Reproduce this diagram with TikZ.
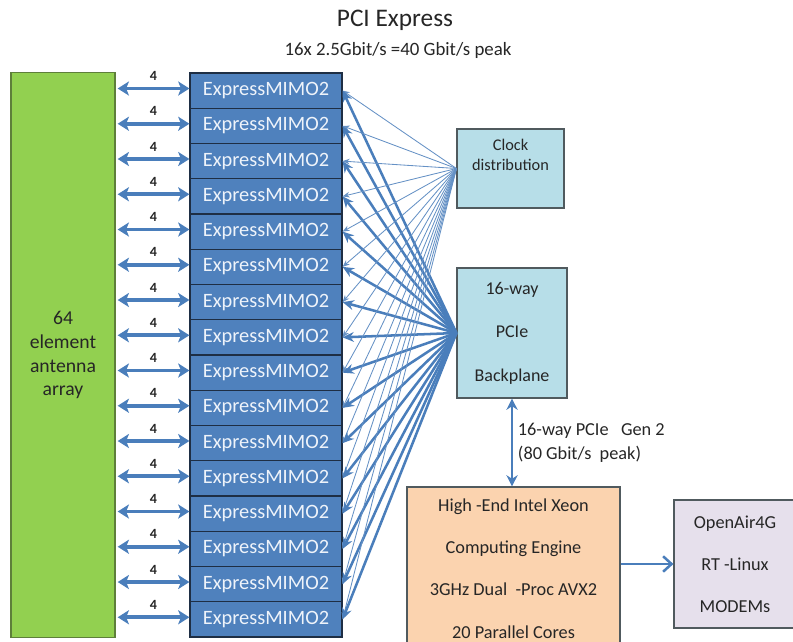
\documentclass[tikz,border=0pt]{standalone}
\usepackage{fontspec}
\setmainfont{Carlito}
\usepackage{xcolor}
\usetikzlibrary{positioning,arrows.meta}

\definecolor{antgreen}{HTML}{92D050}
\definecolor{antedge}{HTML}{5E7F3A}
\definecolor{mimoblue}{HTML}{4F81BD}
\definecolor{mimoedge}{HTML}{1E2E44}
\definecolor{mimotext}{HTML}{EEF3FA}
\definecolor{linkblue}{HTML}{4A7EBB}
\definecolor{panelblue}{HTML}{B7DEE8}
\definecolor{xeonpeach}{HTML}{FBD3AF}
\definecolor{modemlilac}{HTML}{E6E0EC}
\definecolor{boxgray}{HTML}{505A5E}
\definecolor{inktext}{HTML}{262626}

\begin{document}
\begin{tikzpicture}[
		x=0.025cm, y=-0.025cm,
		every node/.style={text=inktext},
		box/.style={
			draw=boxgray,
			line width=0.8pt,
			inner sep=0pt,
			align=center
		},
		mimobox/.style={
			draw=mimoedge,
			fill=mimoblue,
			line width=0.8pt,
			minimum width=3.8cm,
			minimum height=0.88125cm,
			inner sep=0pt,
			text=mimotext,
			font=\fontsize{14.5}{17}\selectfont
		},
		lanearrow/.style={linkblue, line width=2.6pt,
			{Stealth[length=8pt,width=10pt,inset=2pt]}-{Stealth[length=8pt,width=10pt,inset=2pt]}},
		clockline/.style={linkblue!85, line width=0.6pt,
			-{Stealth[length=5pt,width=4pt]}},
		pcieline/.style={linkblue, line width=1.8pt,
			-{Stealth[length=8pt,width=7pt]}}
		]
		
		\useasboundingbox (0,0) rectangle (793,642);
		
		% titles
		\node[font=\fontsize{18}{20}\selectfont] (title) at (395,20) {PCI Express};
		\node[font=\fontsize{13.4}{15}\selectfont] (rate) at (398,50)
		{16x 2.5Gbit/s =40 Gbit/s peak};
		
		% antenna array
		\node[box, fill=antgreen, draw=antedge,
		minimum width=2.6cm, minimum height=14.1cm,
		font=\fontsize{14}{17}\selectfont] (antenna) at (63,355)
		{64\\element\\antenna\\array};
		
		% boards
		\foreach \i in {1,...,16}
		\node[mimobox] (mimo\i) at (266,{73+35.25*(\i-0.5)}) {ExpressMIMO2};
		
		% clock and backplane
		\node[box, fill=panelblue, minimum width=2.675cm, minimum height=1.975cm]
		(clock) at (510.5,168.5) {};
		\node[align=center, font=\fontsize{11.6}{14.5}\selectfont,
		below=4pt of clock.north] (clocktext) {Clock\\distribution};
		
		\node[box, fill=panelblue, minimum width=2.75cm, minimum height=3.25cm,
		font=\fontsize{12.8}{31}\selectfont] (backplane) at (512,333)
		{16-way\\PCIe\\Backplane};
		
		% host and modems
		\node[box, fill=xeonpeach, minimum width=5.325cm, minimum height=4.075cm,
		font=\fontsize{13}{30}\selectfont] (xeon) at (513.5,568.5)
		{High -End Intel Xeon\\Computing Engine\\3GHz Dual\ \ -Proc AVX2\\20 Parallel Cores};
		
		\node[box, fill=modemlilac, minimum width=3.05cm, minimum height=3.2cm,
		font=\fontsize{13}{30}\selectfont] (modem) at (735,564)
		{OpenAir4G\\RT -Linux\\MODEMs};
		
		% links
		\foreach \i in {1,...,16} {
			\draw[lanearrow] ([xshift=1.5pt,yshift=1.5pt]antenna.east |- mimo\i.west)
			-- ([yshift=1.5pt]mimo\i.west)
			node[midway, above=1pt, font=\bfseries\fontsize{10}{11}\selectfont] {4};
			\draw[clockline] (clock.west) -- (mimo\i.east);
			\draw[pcieline] (backplane.west) -- (mimo\i.east);
		}
		
		\draw[linkblue, line width=1.8pt,
		{Stealth[length=8pt,width=8pt]}-{Stealth[length=8pt,width=8pt]}]
		(backplane.south) -- (backplane.south |- xeon.north)
		node[midway, right, align=left, font=\fontsize{13}{17}\selectfont]
		{16-way PCIe\ \ \ Gen 2\\(80 Gbit/s\ \ peak)};
		
		\draw[linkblue, line width=1.8pt, -{Straight Barb[length=6pt,width=11pt]}]
		(xeon.east |- modem.west) -- (modem.west);
		
	\end{tikzpicture}
\end{document}
